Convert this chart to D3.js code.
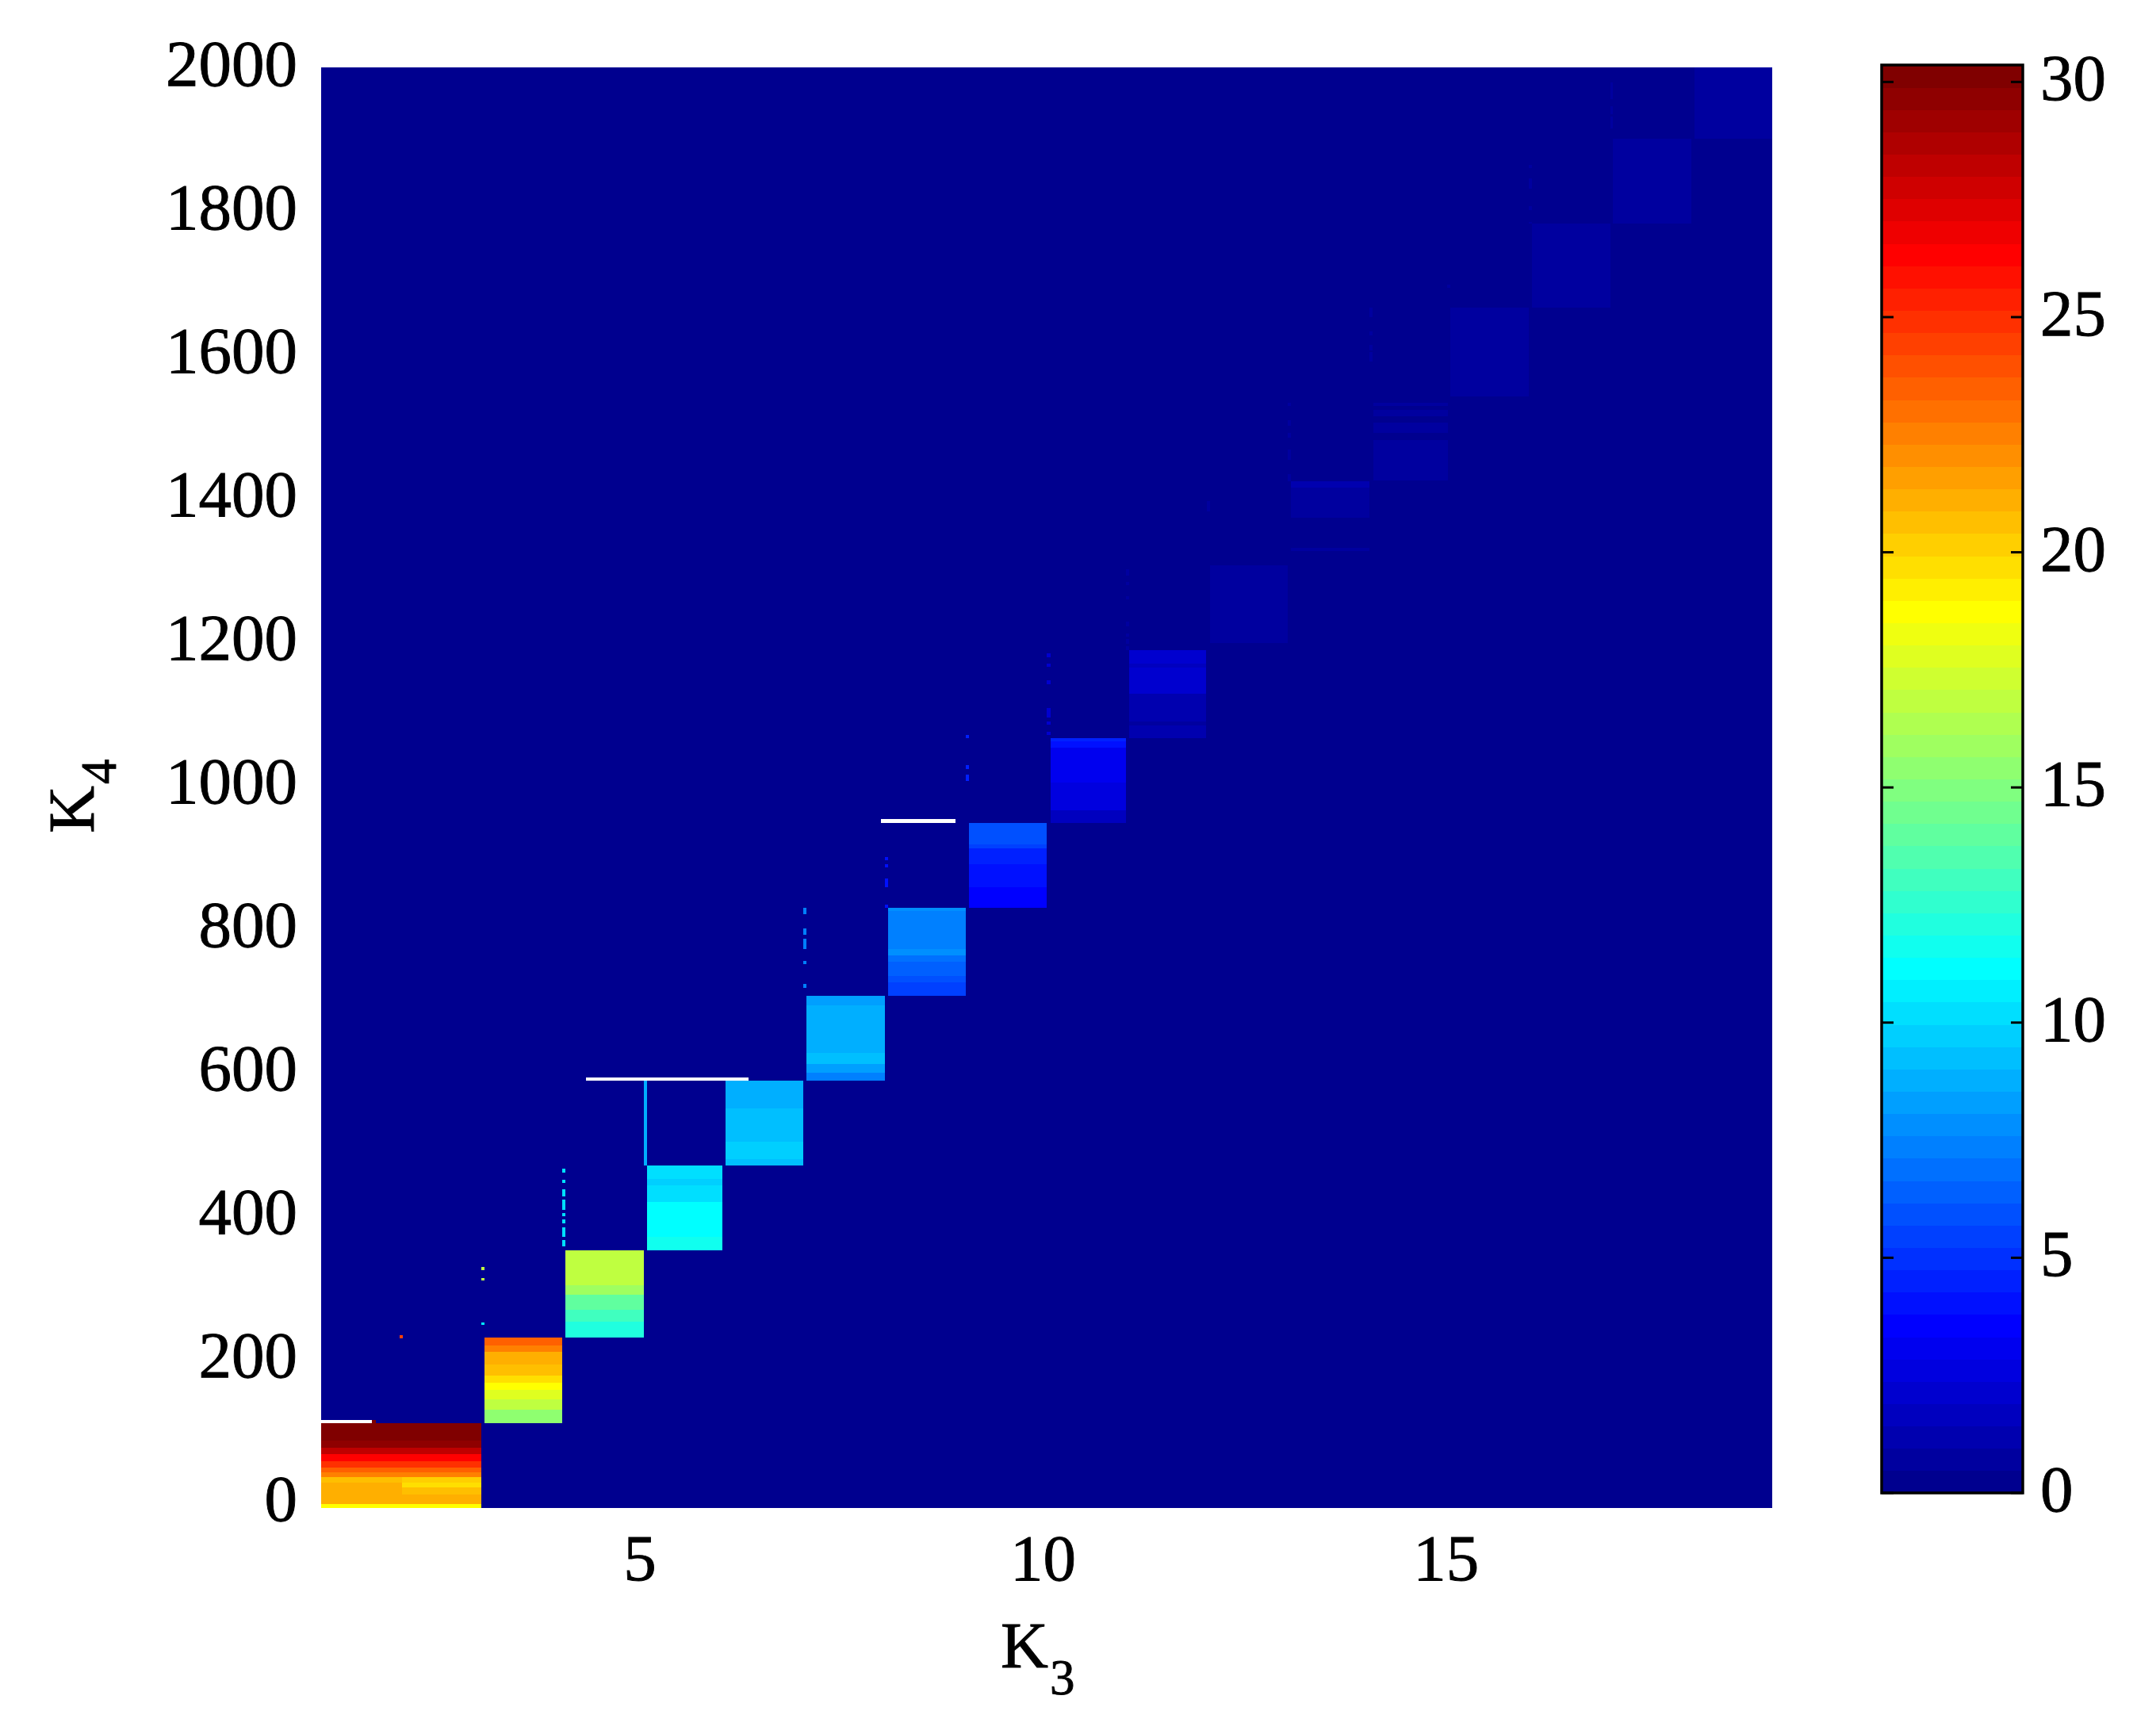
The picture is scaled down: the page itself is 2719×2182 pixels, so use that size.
<!DOCTYPE html>
<html><head><meta charset="utf-8">
<script src="https://cdn.jsdelivr.net/npm/d3@7"></script>
<style>
body{margin:0;background:#fff;}
svg{display:block;}
text{font-family:"Liberation Serif","Times New Roman",serif;fill:#000;stroke:#000;stroke-width:0.9px;}
</style>
</head><body>
<svg id="chart" width="2719" height="2182"></svg>
<script>
// ---------------- data ----------------
const K3_TICKS = [5, 10, 15];
const K4_TICKS = [0, 200, 400, 600, 800, 1000, 1200, 1400, 1600, 1800, 2000];
const CBAR_TICKS = [0, 5, 10, 15, 20, 25, 30];
const K3_DOMAIN = [1.05, 19.05];
const K4_DOMAIN = [-12, 1996];
const C_LIMITS = [0, 30.36];

// K3 span of each block
const blockK3 = [
  [1.05, 2.05], [2.05, 3.04], [3.08, 4.04], [4.08, 5.05], [5.09, 6.03], [6.07, 7.03],
  [7.07, 8.04], [8.08, 9.05], [9.09, 10.05], [10.10, 11.03], [11.07, 12.03], [12.08, 13.04],
  [13.08, 14.05], [14.10, 15.03], [15.06, 16.03], [16.07, 17.04], [17.07, 18.05], [18.09, 19.05]
];
// bands in each block: [K4 low, K4 high, value]
const blockBands = [
  [[82,106,30.2],[72,82,29.6],[63,72,28.2],[53,63,26.3],[44,53,24.9],[38,44,23.5],[31,38,22.3],[23,31,20.6],[17,23,21.1],[7,17,21.1],[-6,7,21.1],[-12,-6,18.7]],
  [[82,106,30.2],[72,82,29.6],[63,72,28.2],[53,63,26.3],[44,53,24.9],[38,44,23.5],[31,38,22.3],[23,31,20.2],[17,23,19.7],[7,17,20.6],[-6,7,21.1],[-12,-6,18.7]],
  [[214,226,23.5],[206,214,22.5],[188,206,21.1],[173,188,20.4],[163,173,19.7],[153,163,18.7],[139,153,17.8],[125,139,16.8],[106,125,15.4]],
  [[298,347,16.8],[285,298,15.9],[264,285,14.0],[248,264,13.0],[226,248,12.1]],
  [[447,465,10.2],[438,447,9.7],[415,438,10.2],[366,415,11.15],[347,366,11.6]],
  [[545,584,8.8],[499,545,9.25],[474,499,9.7],[465,474,9.25]],
  [[689,702,8.1],[622,689,8.8],[607,622,9.25],[595,607,8.3],[584,595,7.35]],
  [[820,824.5,7.8],[767,820,7.35],[758,767,7.8],[749,758,6.9],[730,749,6.4],[721,730,5.9],[702,721,5.45]],
  [[913,943,5.93],[907,913,5.45],[885,907,4.6],[853,885,4.1],[824.5,853,3.56]],
  [[1057,1061,4.5],[1048,1057,4.0],[999,1048,3.08],[960,999,2.6],[943,960,1.66]],
  [[1165,1184,2.1],[1159,1165,1.7],[1123,1159,2.1],[1084,1123,1.4],[1079,1084,0.9],[1061,1079,1.2]],
  [[1236,1302,0.9],[1194,1236,0.6]],
  [[1410,1419,1.2],[1368,1410,0.7],[1322,1326,0.5]],
  [[1524,1528.5,0.6],[1510,1519,0.6],[1486,1501,0.6],[1420,1477,0.6]],
  [[1537,1661,0.7]],
  [[1661,1778,0.7]],
  [[1778,1896,0.7]],
  [[1896,1996,0.6]]
];
// thin columns between blocks: [K3 low, K3 high, K4 low, K4 high, value]
const streaks = [
  [1.68,1.73,106,111,30.2],
  [2.02,2.06,225,229,24.4],
  [3.04,3.08,319,324,16.8],[3.04,3.08,305,309,16.8],[3.04,3.08,243,247,10.7],
  [4.04,4.08,455,461,10.2],[4.04,4.08,441,445.5,10.2],[4.04,4.08,422,432,10.2],[4.04,4.08,404,418,10.2],
  [4.04,4.08,395,399,10.2],[4.04,4.08,385,390,10.2],[4.04,4.08,366,379,10.2],[4.04,4.08,353,361,10.2],
  [5.05,5.09,465,584,9.0],
  [7.03,7.07,816,824.5,7.35],[7.03,7.07,787,796,7.35],[7.03,7.07,767,782,7.35],[7.03,7.07,746,751,7.35],[7.03,7.07,713,718,7.35],
  [8.04,8.08,891,895,4.0],[8.04,8.08,881,885,4.0],[8.04,8.08,853,866,4.0],[8.04,8.08,824.5,829,4.0],
  [9.05,9.09,1061,1065,4.5],[9.05,9.09,1018,1023,4.5],[9.05,9.09,1001,1010,4.5],
  [10.05,10.10,1174,1179,2.1],[10.05,10.10,1160,1165,2.1],[10.05,10.10,1136,1142,2.1],
  [10.05,10.10,1090,1103,2.1],[10.05,10.10,1080,1084,2.1],[10.05,10.10,1065,1070,2.1],
  [11.03,11.07,1288,1296,0.9],[11.03,11.07,1274,1279,0.9],[11.03,11.07,1254,1259,0.9],[11.03,11.07,1217,1223,0.9],
  [11.03,11.07,1202,1207,0.9],[11.03,11.07,1193,1199,0.9],[11.03,11.07,1184,1189,0.9],
  [12.04,12.08,1377,1391,0.6],
  [13.04,13.08,1524,1528,0.6],[13.04,13.08,1496,1504,0.6],[13.04,13.08,1480,1486,0.6],[13.04,13.08,1449,1463,0.6],[13.04,13.08,1419,1429,0.6],
  [14.05,14.09,1648,1661,0.6],[14.05,14.09,1623,1628,0.6],[14.05,14.09,1602,1609,0.6],[14.05,14.09,1586,1599,0.6],
  [15.02,15.06,1689,1693,0.6],
  [16.03,16.07,1856,1860,0.6],[16.03,16.07,1827,1841,0.6],[16.03,16.07,1797,1803,0.6],[16.03,16.07,1778,1781,0.6],
  [17.04,17.07,1952,1975,0.6],[17.04,17.07,1931,1942,0.6],[17.04,17.07,1911,1928,0.6]
];
// undefined (white) segments: [K3 low, K3 high, K4 low, K4 high]
const gaps = [
  [1.05,1.68,106,111],
  [4.34,6.35,584,588],
  [7.99,8.92,943,948]
];

// ---------------- jet colormap (64) ----------------
function jetMap(m) {
  const n = Math.ceil(m / 4);
  const u = [];
  for (let k = 1; k <= n; k++) u.push(k / n);
  for (let k = 1; k < n; k++) u.push(1);
  for (let k = n; k >= 1; k--) u.push(k / n);
  const g0 = Math.ceil(n / 2) - (m % 4 === 1 ? 1 : 0);
  const J = Array.from({length: m}, () => [0, 0, 0]);
  u.forEach((val, k) => {
    const gi = g0 + k + 1, ri = gi + n, bi = gi - n;
    if (ri >= 1 && ri <= m) J[ri - 1][0] = val;
    if (gi >= 1 && gi <= m) J[gi - 1][1] = val;
    if (bi >= 1 && bi <= m) J[bi - 1][2] = val;
  });
  return J.map(c => d3.rgb(Math.round(c[0]*255), Math.round(c[1]*255), Math.round(c[2]*255)).formatHex());
}
const JET = jetMap(64);
const colorScale = d3.scaleQuantize().domain(C_LIMITS).range(JET);
const colorOf = v => colorScale(Math.max(C_LIMITS[0], Math.min(C_LIMITS[1] - 1e-9, v)));

// ---------------- layout ----------------
const svg = d3.select('#chart');
const P = {left: 405, right: 2235, top: 85, bottom: 1902};
const x = d3.scaleLinear().domain(K3_DOMAIN).range([P.left, P.right]);
const y = d3.scaleLinear().domain(K4_DOMAIN).range([P.bottom, P.top]);
const FS = 83;

const plot = svg.append('g').attr('shape-rendering', 'crispEdges');
plot.append('rect')
  .attr('x', x(K3_DOMAIN[0])).attr('y', y(K4_DOMAIN[1]))
  .attr('width', x(K3_DOMAIN[1]) - x(K3_DOMAIN[0]))
  .attr('height', y(K4_DOMAIN[0]) - y(K4_DOMAIN[1]))
  .attr('fill', colorOf(0));

const cells = [];
blockK3.forEach((span, i) => {
  blockBands[i].forEach(b => cells.push({k3a: span[0], k3b: span[1], k4a: b[0], k4b: b[1], v: b[2]}));
});
streaks.forEach(s => cells.push({k3a: s[0], k3b: s[1], k4a: s[2], k4b: s[3], v: s[4]}));

plot.selectAll('rect.cell').data(cells).join('rect').attr('class', 'cell')
  .attr('x', d => x(d.k3a)).attr('width', d => x(d.k3b) - x(d.k3a))
  .attr('y', d => y(d.k4b)).attr('height', d => y(d.k4a) - y(d.k4b))
  .attr('fill', d => colorOf(d.v));

plot.selectAll('rect.gap').data(gaps).join('rect').attr('class', 'gap')
  .attr('x', d => x(d[0])).attr('width', d => x(d[1]) - x(d[0]))
  .attr('y', d => y(d[3])).attr('height', d => y(d[2]) - y(d[3]))
  .attr('fill', '#ffffff');

// axes
const yAxis = svg.append('g').attr('transform', `translate(${P.left},0)`)
  .call(d3.axisLeft(y).tickValues(K4_TICKS).tickSize(0).tickPadding(30).tickFormat(d3.format('d')));
const xAxis = svg.append('g').attr('transform', `translate(0,${P.bottom})`)
  .call(d3.axisBottom(x).tickValues(K3_TICKS).tickSize(0).tickPadding(32).tickFormat(d3.format('d')));
[xAxis, yAxis].forEach(a => {
  a.select('.domain').remove();
  a.selectAll('text').attr('font-size', FS).attr('font-family', '"Liberation Serif",serif').attr('fill', '#000');
});

// axis titles
const xt = svg.append('text').attr('x', 1262).attr('y', 2103).attr('font-size', FS);
xt.append('tspan').text('K');
xt.append('tspan').attr('font-size', 63).attr('dy', 34).attr('dx', 2).text('3');

const yt = svg.append('text').attr('transform', 'translate(118,1051) rotate(-90)').attr('font-size', FS);
yt.append('tspan').text('K');
yt.append('tspan').attr('font-size', 63).attr('dy', 28).attr('dx', 2).text('4');

// ---------------- colorbar ----------------
const CB = {left: 2373, right: 2551, top: 82, bottom: 1883};
const cy = d3.scaleLinear().domain(C_LIMITS).range([CB.bottom, CB.top]);
const stripes = JET.map((c, i) => ({c, lo: C_LIMITS[0] + i * (C_LIMITS[1]-C_LIMITS[0]) / JET.length, hi: C_LIMITS[0] + (i+1) * (C_LIMITS[1]-C_LIMITS[0]) / JET.length}));
const cb = svg.append('g');
cb.selectAll('rect.s').data(stripes).join('rect').attr('class', 's')
  .attr('shape-rendering', 'crispEdges')
  .attr('x', CB.left).attr('width', CB.right - CB.left)
  .attr('y', d => cy(d.hi)).attr('height', d => cy(d.lo) - cy(d.hi) + 0.5)
  .attr('fill', d => d.c);
cb.append('rect').attr('x', CB.left).attr('y', CB.top)
  .attr('width', CB.right - CB.left).attr('height', CB.bottom - CB.top)
  .attr('fill', 'none').attr('stroke', '#000').attr('stroke-width', 3.5);
cb.selectAll('line.tl').data(CBAR_TICKS).join('line').attr('class', 'tl')
  .attr('x1', CB.left).attr('x2', CB.left + 15).attr('y1', d => cy(d)).attr('y2', d => cy(d))
  .attr('stroke', '#000').attr('stroke-width', 3);
cb.selectAll('line.tr').data(CBAR_TICKS).join('line').attr('class', 'tr')
  .attr('x1', CB.right - 15).attr('x2', CB.right).attr('y1', d => cy(d)).attr('y2', d => cy(d))
  .attr('stroke', '#000').attr('stroke-width', 3);
const cAxis = svg.append('g').attr('transform', `translate(${CB.right},-4)`)
  .call(d3.axisRight(cy).tickValues(CBAR_TICKS).tickSize(0).tickPadding(22).tickFormat(d3.format('d')));
cAxis.select('.domain').remove();
cAxis.selectAll('text').attr('font-size', FS).attr('font-family', '"Liberation Serif",serif').attr('fill', '#000');
</script>
</body></html>
